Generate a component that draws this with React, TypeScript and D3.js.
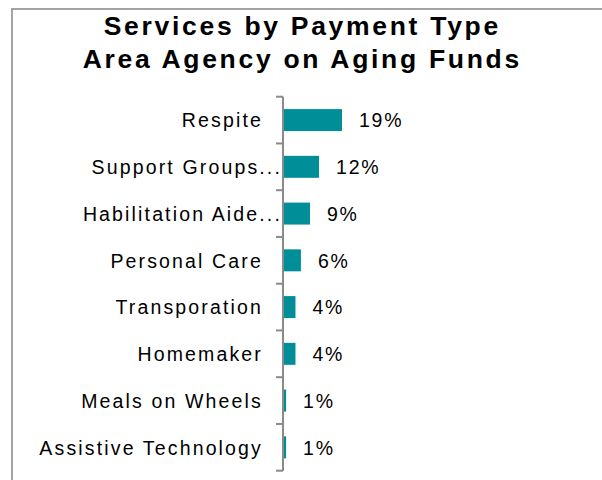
import * as d3 from "d3";

const categories = [
  "Respite",
  "Support Groups...",
  "Habilitation Aide...",
  "Personal Care",
  "Transporation",
  "Homemaker",
  "Meals on Wheels",
  "Assistive Technology",
];
const shares = [0.192, 0.116, 0.086, 0.056, 0.038, 0.038, 0.007, 0.007];
const titleLines = ["Services by Payment Type", "Area Agency on Aging Funds"];

const W = 602;
const H = 480;
const FONT = "'Liberation Sans', Arial, Helvetica, sans-serif";
const BAR = "#008e99";
const AXIS = "#8a8a8a";

export default function App() {
  const axisX = 283;
  const y = d3
    .scaleBand<string>()
    .domain(categories)
    .range([96.7, 470.7])
    .paddingInner(0.53)
    .paddingOuter(0.265);
  const x = d3.scaleLinear().domain([0, 1]).range([axisX + 1, 586]);
  const fmt = (v: number) => `${Math.round(v * 100)}%`;

  const [y0, y1] = y.range();
  const ticks = d3.range(categories.length + 1).map((i) => y0 + i * y.step());

  return (
    <svg
      width={W}
      height={H}
      style={{ position: "absolute", left: 0, top: 0, display: "block", background: "#fff" }}
      fontFamily={FONT}
    >
      {/* chart frame, cut off at right and bottom */}
      <rect x={12} y={9} width={W + 50} height={H + 50} fill="none" stroke="#999" strokeWidth={1.8} />

      {titleLines.map((t, i) => (
        <text
          key={t}
          x={W / 2 + 1.3}
          y={35 + i * 33}
          textAnchor="middle"
          fontSize={26.5}
          fontWeight="bold"
          letterSpacing={2.7}
          fill="#000"
        >
          {t}
        </text>
      ))}

      {/* bars */}
      {categories.map((c, i) => (
        <rect
          key={c}
          x={x(0)}
          y={y(c)!}
          width={x(shares[i]) - x(0)}
          height={y.bandwidth()}
          fill={BAR}
        />
      ))}

      {/* value labels */}
      {categories.map((c, i) => (
        <text
          key={c}
          x={x(shares[i]) + 17}
          y={y(c)! + y.bandwidth() / 2}
          dy="0.37em"
          fontSize={19.5}
          letterSpacing={1.8}
          fill="#000"
        >
          {fmt(shares[i])}
        </text>
      ))}

      {/* category axis */}
      <line x1={axisX} x2={axisX} y1={y0} y2={y1} stroke={AXIS} strokeWidth={2} />
      {ticks.map((t, i) => (
        <line key={i} x1={axisX - 7} x2={axisX} y1={t} y2={t} stroke={AXIS} strokeWidth={2} />
      ))}
      {categories.map((c) => (
        <text
          key={c}
          x={c.endsWith("...") ? axisX - 1 : axisX - 20}
          y={y(c)! + y.bandwidth() / 2}
          dy="0.37em"
          textAnchor="end"
          fontSize={19.5}
          letterSpacing={2.15}
          fill="#000"
        >
          {c}
        </text>
      ))}
    </svg>
  );
}
